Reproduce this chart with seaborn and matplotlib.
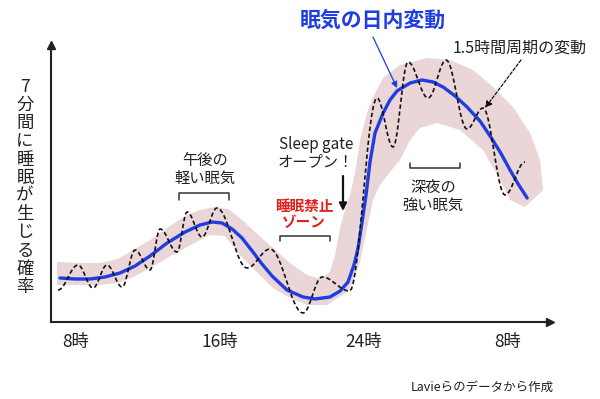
import numpy as np
import pandas as pd
import matplotlib
matplotlib.use("Agg")
import matplotlib.pyplot as plt
import seaborn as sns

# ---------------- data (hours, relative sleep propensity) ----------------
blue_h = [7.11, 7.94, 8.78, 9.61, 10.44, 11.28, 12.11, 13.06, 14.06, 14.89, 15.56, 16.11,
          16.67, 17.22, 17.83, 18.33, 18.89, 19.72, 20.61, 21.28, 22.11, 22.67, 23.11,
          23.44, 23.67, 23.89, 24.11, 24.33, 24.61, 25.06, 25.44, 25.83, 26.56, 27.22,
          27.83, 28.39, 29.06, 29.72, 30.44, 31.00, 31.56, 32.11, 32.56, 33.06]
blue_v = [44, 43, 43, 45, 49, 56, 66, 79, 90, 97, 100, 99,
          93, 84, 70, 58, 46, 32, 25, 23, 25, 31, 40,
          57, 74, 100, 127, 160, 189, 209, 222, 231, 239, 242,
          240, 235, 226, 215, 201, 186, 170, 152, 138, 124]

# extrema of the 1.5-hour ultradian fluctuation (dashed line)
osc_h = [7.0, 8.11, 8.94, 9.72, 10.56, 11.28, 12.11, 12.67, 13.61, 14.17, 15.0, 15.83,
         17.5, 18.78, 20.61, 21.67, 23.2, 24.72, 25.61, 26.44, 27.56, 28.56, 29.72,
         30.61, 31.83, 32.94]
osc_v = [32, 57, 34, 57, 35, 72, 52, 93, 70, 110, 85, 114,
         54, 73, 9, 45, 31, 224, 175, 260, 224, 262, 193,
         214, 127, 160]

# pink band: upper/outer edge (left -> right) and lower/inner edge (right -> left)
band_top_h = [6.94, 8.22, 9.33, 10.33, 11.17, 12.11, 13.06, 14.06, 14.89, 15.72, 16.44, 17.11,
              17.94, 18.94, 19.89, 20.83, 21.56, 22.11, 22.39, 22.67, 22.94, 23.22, 23.50,
              23.78, 24.17, 24.50, 25.06, 26.00, 27.50, 28.78, 30.06, 31.17, 32.28, 33.22,
              33.78, 33.94]
band_top_v = [60, 59, 59, 63, 72, 82, 94, 106, 112, 115, 113, 104,
              90, 74, 59, 47, 43, 50, 67, 94, 112, 127, 149,
              182, 209, 225, 244, 257, 264, 262, 252, 235, 215, 189,
              162, 132]
band_bot_h = [32.94, 32.11, 31.56, 30.61, 29.33, 28.06, 27.11, 26.56, 26.00, 25.44, 24.89,
              24.50, 24.17, 23.78, 23.39, 23.06, 21.94, 20.83, 19.89, 18.94, 17.94, 17.11,
              16.28, 15.44, 14.89, 14.06, 13.06, 12.11, 11.17, 10.33, 9.33, 8.22, 6.94]
band_bot_v = [115, 122, 142, 172, 192, 199, 194, 182, 162, 150, 137,
              122, 94, 60, 40, 30, 17, 17, 24, 34, 52, 67,
              86, 87, 82, 74, 64, 54, 45, 39, 37, 37, 37]

tick_h = [8, 16, 24, 32]
tick_labels = ["8時", "16時", "24時", "8時"]
ylabel_text = "7分間に睡眠が生じる確率"

# ---------------- style ----------------
sns.set_style("white")
plt.rcParams["font.family"] = ["Noto Sans CJK JP", "DejaVu Sans"]

W, H = 600, 399
fig = plt.figure(figsize=(W / 100, H / 100), dpi=100)
ax = fig.add_axes([51 / W, 77 / H, 499 / W, 277 / H])
ax.set_xlim(6.61, 34.33)
ax.set_ylim(0, 277)

INK = "#222222"
BLUE = "#1f3de0"
PINK = "#ead5d7"

# band
ax.fill(band_top_h + band_bot_h, band_top_v + band_bot_v, color=PINK, lw=0, zorder=1)

# blue circadian curve
df_blue = pd.DataFrame({"h": blue_h, "v": blue_v})
sns.lineplot(data=df_blue, x="h", y="v", ax=ax, color=BLUE, lw=2.4, sort=False,
             estimator=None, zorder=3)

# dashed fluctuation: drawn as smooth half-waves between the read extrema
xs, ys = [], []
t = np.linspace(0, 1, 16)
for i in range(len(osc_h) - 1):
    x0, x1, y0, y1 = osc_h[i], osc_h[i + 1], osc_v[i], osc_v[i + 1]
    xs.extend(list(x0 + (x1 - x0) * t)[(1 if i else 0):])
    ys.extend(list(y0 + (y1 - y0) * (1 - np.cos(np.pi * t)) / 2)[(1 if i else 0):])
df_osc = pd.DataFrame({"h": xs, "v": ys})
sns.lineplot(data=df_osc, x="h", y="v", ax=ax, color="#111111", lw=1.2, sort=False,
             estimator=None, zorder=4, linestyle=(0, (2.6, 1.6)))

# axes
for s in ["top", "right"]:
    ax.spines[s].set_visible(False)
for s in ["left", "bottom"]:
    ax.spines[s].set_linewidth(1.5)
    ax.spines[s].set_color(INK)
ax.plot(0, 1, marker="^", color=INK, markersize=6, transform=ax.transAxes, clip_on=False)
ax.plot(1, 0, marker=">", color=INK, markersize=6, transform=ax.transAxes, clip_on=False)
ax.set_xticks(tick_h)
ax.set_xticklabels(tick_labels, fontsize=12.5, color=INK)
ax.set_yticks([])
ax.tick_params(axis="x", direction="in", length=6.5, width=1.3, color=INK, pad=8)
ax.set_xlabel("")
ax.set_ylabel("")

def fp(x, y):
    return x / W, 1 - y / H

# vertical y label (stacked characters)
n = len(ylabel_text)
for i, ch in enumerate(ylabel_text):
    yy = 87 + i * (287 - 87) / (n - 1)
    fig.text(*fp(25, yy), ch, fontsize=12.5, color=INK, ha="center", va="center")

# title
fig.text(*fp(373, 20), "眠気の日内変動", fontsize=15, fontweight="bold", color=BLUE,
         ha="center", va="center")
ax.annotate("", xy=fp(397, 88), xytext=fp(373, 37), xycoords="figure fraction",
            textcoords="figure fraction",
            arrowprops=dict(arrowstyle="-|>", color=BLUE, lw=0.9, mutation_scale=9,
                            shrinkA=0, shrinkB=0))

fig.text(*fp(520, 48), "1.5時間周期の変動", fontsize=11.5, color=INK, ha="center", va="center")
ax.annotate("", xy=fp(485, 108), xytext=fp(521, 60), xycoords="figure fraction",
            textcoords="figure fraction",
            arrowprops=dict(arrowstyle="-|>", color="#111111", lw=0.9, mutation_scale=10,
                            linestyle=(0, (2.5, 1.5)), shrinkA=0, shrinkB=0))

fig.text(*fp(205, 161), "午後の", fontsize=11, color=INK, ha="center", va="center")
fig.text(*fp(205, 178), "軽い眠気", fontsize=11, color=INK, ha="center", va="center")

fig.text(*fp(316, 145), "Sleep gate", fontsize=11, color=INK, ha="center", va="center")
fig.text(*fp(316, 162), "オープン！", fontsize=11, color=INK, ha="center", va="center")
ax.annotate("", xy=fp(343, 211), xytext=fp(343, 176), xycoords="figure fraction",
            textcoords="figure fraction",
            arrowprops=dict(arrowstyle="-|>", color="#111111", lw=1.6, mutation_scale=11,
                            shrinkA=0, shrinkB=0))

fig.text(*fp(304, 206), "睡眠禁止", fontsize=10.5, fontweight="bold", color="#e0201a",
         ha="center", va="center")
fig.text(*fp(304, 222), "ゾーン", fontsize=10.5, fontweight="bold", color="#e0201a",
         ha="center", va="center")

fig.text(*fp(433, 187), "深夜の", fontsize=11, color=INK, ha="center", va="center")
fig.text(*fp(433, 205), "強い眠気", fontsize=11, color=INK, ha="center", va="center")

fig.text(*fp(482, 387), "Lavieらのデータから作成", fontsize=9, color=INK,
         ha="center", va="center")

# brackets
def bracket(x0, x1, y, y_end):
    xsb = [x0 / W, x0 / W, x1 / W, x1 / W]
    ysb = [1 - y_end / H, 1 - y / H, 1 - y / H, 1 - y_end / H]
    fig.add_artist(plt.Line2D(xsb, ysb, color="#333333", lw=1.1))

bracket(179, 229, 193, 200)
bracket(280, 330, 236, 241)
bracket(410, 460, 168, 163)

fig.savefig("out.png", dpi=100)
